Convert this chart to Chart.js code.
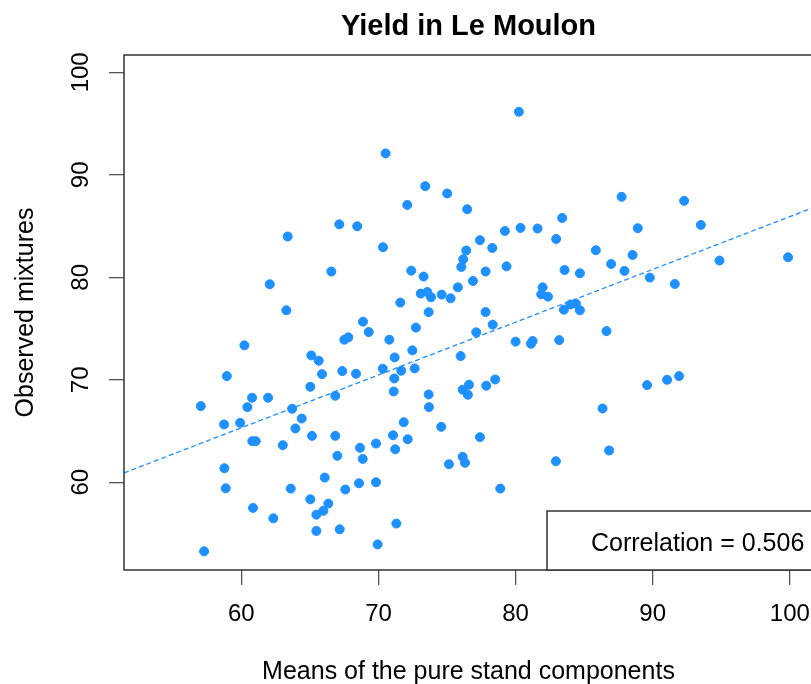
<!DOCTYPE html>
<html>
<head>
<meta charset="utf-8">
<title>Yield in Le Moulon</title>
<script src="https://cdn.jsdelivr.net/npm/chart.js@4/dist/chart.umd.min.js"></script>
<style>
  html, body { margin: 0; padding: 0; background: #fff; overflow: hidden; }
  #wrap { position: relative; width: 830px; height: 684px; }
</style>
</head>
<body>
<div id="wrap"><canvas id="chart"></canvas></div>
<script>
// means of the pure stand components (x) and observed mixture yield (y)
const pureMeans = [
  67.14, 63.38, 66.56, 62.07, 63.28, 80.24, 70.52, 73.41, 75.01, 72.10,
  76.47, 68.45, 83.40, 80.36, 81.60, 79.22, 82.96, 77.40, 70.33, 78.30,
  76.40, 76.18, 76.04, 79.34, 72.39, 73.29, 77.81, 83.57, 84.69, 76.89,
  75.79, 81.97, 74.61, 75.26, 73.08, 73.56, 73.83, 81.87, 82.36, 71.59,
  73.66, 77.81, 83.52, 84.00, 84.40, 84.69, 87.73, 92.29, 88.91, 93.51,
  85.85, 88.53, 86.97, 94.87, 99.87, 87.94, 89.79, 91.61, 60.22, 67.51,
  67.80, 65.10, 65.64, 58.94, 65.88, 67.36, 68.36, 65.03, 57.04, 60.78,
  61.95, 60.44, 66.85, 63.70, 64.40, 58.74, 59.91, 63.94, 60.80, 61.05,
  63.02, 65.15, 66.85, 67.00, 58.76, 66.08, 58.86, 63.60, 67.58, 65.03,
  66.34, 65.98, 65.47, 60.85, 62.33, 65.47, 67.17, 57.28, 68.87, 69.29,
  72.73, 70.79, 78.33, 77.13, 80.00, 81.12, 81.24, 83.18, 71.18, 72.47,
  75.99, 70.31, 71.66, 72.64, 71.15, 71.11, 73.66, 73.68, 76.14, 76.60,
  76.52, 77.86, 78.51, 71.84, 74.58, 77.40, 71.06, 72.13, 69.82, 71.22,
  68.65, 68.85, 76.14, 76.31, 75.14, 82.94, 78.88, 68.58, 69.82, 71.30,
  69.94, 86.63, 89.59, 91.05, 91.92, 86.34, 86.82
];
const observedMixtures = [
  85.17, 83.98, 80.56, 79.32, 76.78, 96.15, 92.09, 88.89, 88.18, 87.06,
  86.64, 84.98, 85.79, 84.82, 84.76, 84.52, 83.74, 83.62, 82.93, 82.86,
  82.61, 81.76, 81.01, 81.07, 80.65, 80.07, 80.56, 80.71, 80.39, 79.64,
  79.02, 79.02, 78.31, 77.95, 78.41, 78.56, 78.05, 78.34, 78.11, 77.53,
  76.60, 76.61, 76.84, 77.35, 77.43, 76.78, 87.85, 87.46, 84.79, 85.11,
  82.64, 82.18, 81.30, 81.63, 81.95, 80.62, 79.97, 79.35, 73.36, 73.91,
  74.14, 72.38, 71.86, 70.36, 70.55, 70.85, 70.59, 69.32, 67.43, 68.25,
  68.25, 67.33, 68.44, 67.17, 66.22, 65.64, 65.80, 65.25, 64.01, 64.01,
  63.62, 64.53, 64.53, 62.58, 61.37, 60.46, 59.41, 59.38, 59.29, 58.34,
  57.92, 57.21, 56.84, 57.50, 56.48, 55.25, 55.41, 53.26, 75.67, 74.66,
  75.09, 73.91, 75.38, 74.63, 73.72, 73.52, 73.78, 73.87, 72.18, 72.87,
  72.31, 71.08, 70.88, 71.11, 70.13, 68.86, 68.57, 67.33, 69.03, 69.52,
  68.54, 69.42, 70.03, 65.86, 65.41, 64.40, 64.59, 64.20, 63.78, 63.22,
  63.36, 62.28, 62.48, 61.90, 61.76, 62.05, 59.38, 59.90, 60.00, 55.97,
  53.94, 74.75, 69.48, 70.00, 70.36, 67.20, 63.10
];

// same limits on both axes
const axisMin = 51.44;
const axisMax = 101.69;
const xTicks = [60, 70, 80, 90, 100];
const yTicks = [60, 70, 80, 90, 100];

// fitted line (dashed)
const fitIntercept = 34.42;
const fitSlope = 0.515;
const correlation = 0.506;

const FONT = "'Liberation Sans', Arial, sans-serif";
const BLUE = "#1E90FF";

const points = pureMeans.map((x, i) => ({ x, y: observedMixtures[i] }));
const fitLine = [axisMin, axisMax].map(x => ({ x, y: fitIntercept + fitSlope * x }));

// title, axis titles, frame and correlation box in R style
const rDecor = {
  id: "rDecor",
  afterDraw(chart) {
    const { ctx, chartArea: a } = chart;
    const cx = (a.left + a.right) / 2;
    ctx.save();
    ctx.fillStyle = "#000";
    ctx.textAlign = "center";
    ctx.textBaseline = "alphabetic";
    ctx.font = "bold 29px " + FONT;
    ctx.fillText("Yield in Le Moulon", cx, 35);
    ctx.font = "25px " + FONT;
    ctx.fillText("Means of the pure stand components", cx, 679);
    ctx.save();
    ctx.translate(33, (a.top + a.bottom) / 2);
    ctx.rotate(-Math.PI / 2);
    ctx.fillText("Observed mixtures", 0, 0);
    ctx.restore();

    ctx.strokeStyle = "#333";
    ctx.lineWidth = 1.5;
    ctx.strokeRect(a.left, a.top, a.right - a.left, a.bottom - a.top);

    // legend box, bottom right
    const bx = 547, by = 511;
    ctx.fillStyle = "#fff";
    ctx.fillRect(bx, by, a.right - bx, a.bottom - by);
    ctx.strokeRect(bx, by, a.right - bx, a.bottom - by);
    ctx.fillStyle = "#000";
    ctx.textAlign = "left";
    ctx.fillText("Correlation = " + correlation.toFixed(3), 591, 551);
    ctx.restore();
  }
};

new Chart(document.getElementById("chart"), {
  type: "scatter",
  data: {
    datasets: [
      {
        type: "line",
        data: fitLine,
        borderColor: BLUE,
        borderWidth: 1.3,
        borderDash: [5, 3],
        pointRadius: 0,
        fill: false,
      },
      {
        data: points,
        backgroundColor: BLUE,
        borderColor: BLUE,
        borderWidth: 1,
        pointRadius: 4.5,
      },
    ],
  },
  options: {
    responsive: true,
    maintainAspectRatio: false,
    animation: false,
    layout: { padding: { top: 55, right: 17, left: 0, bottom: 0 } },
    plugins: { legend: { display: false }, tooltip: { enabled: false }, title: { display: false } },
    scales: {
      x: {
        type: "linear",
        min: axisMin,
        max: axisMax,
        afterBuildTicks: s => { s.ticks = xTicks.map(v => ({ value: v })); },
        afterFit: s => { s.height = 114; },
        grid: { drawOnChartArea: false, drawTicks: true, tickLength: 15, color: "#555", lineWidth: 1.3 },
        border: { display: false },
        ticks: { font: { family: FONT, size: 24 }, color: "#000", padding: 15, maxRotation: 0, autoSkip: false },
      },
      y: {
        type: "linear",
        min: axisMin,
        max: axisMax,
        afterBuildTicks: s => { s.ticks = yTicks.map(v => ({ value: v })); },
        afterFit: s => { s.width = 124; },
        grid: { drawOnChartArea: false, drawTicks: true, tickLength: 15, color: "#555", lineWidth: 1.3 },
        border: { display: false },
        ticks: {
          font: { family: FONT, size: 24 }, color: "#000", padding: 8,
          minRotation: 90, maxRotation: 90, crossAlign: "center", autoSkip: false,
        },
      },
    },
  },
  plugins: [rDecor],
});
</script>
</body>
</html>
